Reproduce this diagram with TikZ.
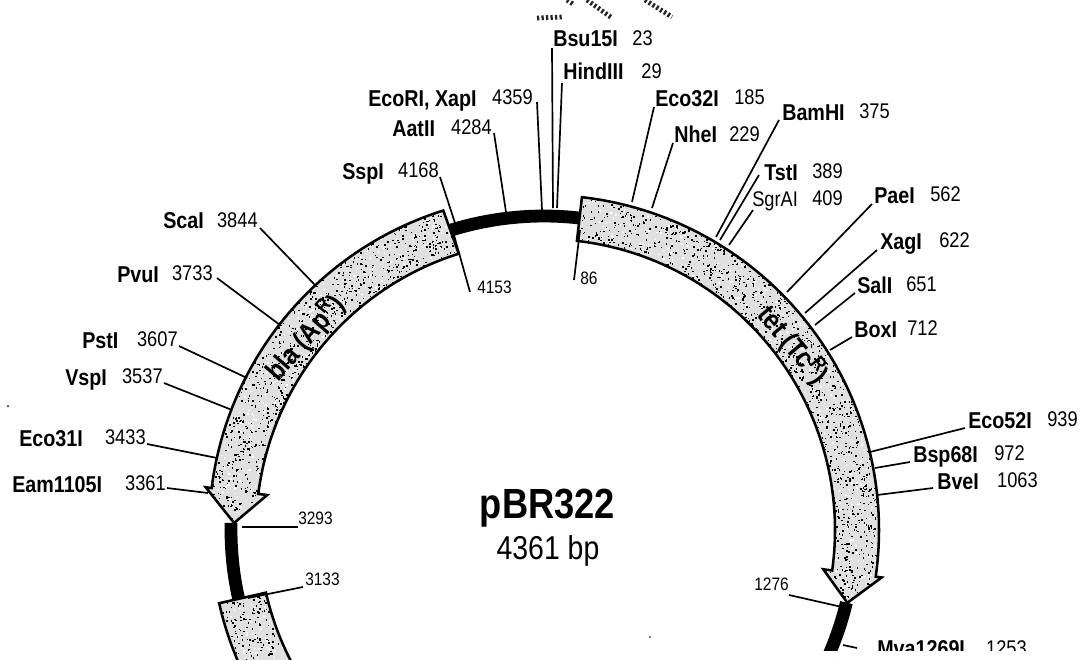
\documentclass[tikz,border=0pt]{standalone}
\usepackage{fontspec}
\setmainfont[FakeStretch=0.86]{Liberation Sans}
\newcommand{\speckle}[4]{%
  \foreach \s in {1,...,#3}{
    \pgfmathsetmacro{\sa}{#1+rnd*(#2-#1)}
    \pgfmathsetmacro{\sr}{280+rnd*62}
    \fill[#4] (\sa:\sr) rectangle ++(1.5,1.5);
  }}
\newcommand{\tetpath}{(83.5:335) arc[start angle=83.5, end angle=-8, radius=335] -- (-8:341) -- (-13.5:312) -- (-8:282) -- (-8:291) arc[start angle=-8, end angle=83.5, radius=291] -- cycle}
\newcommand{\blapath}{(107.5:335) arc[start angle=107.5, end angle=172.8, radius=335] -- (172.8:341) -- (178.7:310) -- (172.8:279) -- (172.8:288) arc[start angle=172.8, end angle=107.5, radius=290] -- cycle}
\newcommand{\rompath}{(192.7:333) arc[start angle=192.7, end angle=212, radius=333] -- (212:285) arc[start angle=212, end angle=192.7, radius=285] -- cycle}
\begin{document}
\begin{tikzpicture}[
    x=0.025cm, y=-0.025cm,
    gene/.style={draw, line width=1.8pt, line join=miter},
    geneback/.style={fill=black!12},
    ori/.style={line width=0.32cm},
    tick/.style={line width=1.2pt},
    enz/.style={anchor=base west, inner sep=0pt, font=\fontsize{16.3}{18}\selectfont\bfseries},
    enzr/.style={anchor=base west, inner sep=0pt, font=\fontsize{15.1}{17}\selectfont},
    num/.style={anchor=base east, inner sep=0pt, font=\fontsize{15.1}{17}\selectfont},
    bpmark/.style={inner sep=0pt, font=\fontsize{12.8}{15}\selectfont},
    genelabel/.style={inner sep=0pt, font=\fontsize{20}{22}\selectfont\bfseries},
    hatchmark/.style={line width=0.12cm, dash pattern=on 1.6pt off 1.6pt, black!85}
]
\path[use as bounding box, clip] (0,0) rectangle (1080,659);
\fill[white] (0,0) rectangle (1080,659);
\pgfmathsetseed{322}

% Ring
\begin{scope}[shift={(544,530)}, yscale=-1]
  \draw[ori] (83.5:314) arc[start angle=83.5, end angle=107.5, radius=314];
  \draw[ori] (178.7:313) arc[start angle=178.7, end angle=193, radius=313];
  \draw[ori] (-13.5:311) arc[start angle=-13.5, end angle=-24, radius=311];
  \fill[geneback] \tetpath;
  \fill[geneback] \blapath;
  \fill[geneback] \rompath;
  \begin{scope}
    \clip \tetpath;
    \speckle{-14}{84}{1500}{black}
    \speckle{-14}{84}{600}{white}
  \end{scope}
  \begin{scope}
    \clip \blapath;
    \speckle{107}{179}{1050}{black}
    \speckle{107}{179}{420}{white}
  \end{scope}
  \begin{scope}
    \clip \rompath;
    \speckle{192}{212}{300}{black}
    \speckle{192}{212}{120}{white}
  \end{scope}
  \draw[gene] \tetpath;
  \draw[gene] \blapath;
  \draw[gene] \rompath;
\end{scope}

% Genes and title
\node[genelabel, rotate=49] (bla) at (305,338) {bla (Ap\textsuperscript{R})};
\node[genelabel, rotate=-50] (tet) at (793,345) {tet (Tc\textsuperscript{R})};
\node[anchor=base, inner sep=0pt, font=\fontsize{30}{32}\selectfont\bfseries] (title) at (547.5,518) {pBR322};
\node[anchor=base, inner sep=0pt, font=\fontsize{23.5}{26}\selectfont] (size) at (548,559) {4361 bp};

% Top
\node[enz] (bsu) at (553,46) {Bsu15I};
\node[num] (bsun) at (653,45) {23};
\coordinate (bsut) at (553,208);
\draw[tick] ([shift={(-1,2)}]bsu.base west) -- (bsut);
\node[enz] (hind) at (563,79) {HindIII};
\node[num] (hindn) at (662,78) {29};
\coordinate (hindt) at (557,208);
\draw[tick] ([shift={(-1,4)}]hind.base west) -- (hindt);
\node[enz] (ecori) at (368,106) {EcoRI, XapI};
\node[num] (ecorin) at (533,104) {4359};
\coordinate (ecorit) at (542,210);
\draw[tick] ([shift={(4,-2)}]ecorin.base east) -- (ecorit);
\node[enz] (aat) at (392,136) {AatII};
\node[num] (aatn) at (492,134) {4284};
\coordinate (aatt) at (506,212);
\draw[tick] ([shift={(2,-1)}]aatn.base east) -- (aatt);
\node[enz] (ssp) at (342,179) {SspI};
\node[num] (sspn) at (439,177) {4168};
\coordinate (sspt) at (455,223);
\draw[tick] ([shift={(1,0)}]sspn.base east) -- (sspt);
\node[bpmark, anchor=base west] (bla4153) at (477,293) {4153};
\coordinate (bla4153t) at (452,228);
\draw[tick] ([shift={(-7,-1)}]bla4153.base west) -- (bla4153t);
\node[bpmark, anchor=base west] (tet86) at (580,284) {86};
\coordinate (tet86t) at (580,230);
\draw[tick] ([shift={(-6,-4)}]tet86.base west) -- (tet86t);

% Right
\node[enz] (eco32) at (655,106) {Eco32I};
\node[num] (eco32n) at (765,104) {185};
\coordinate (eco32t) at (632,202);
\draw[tick] ([shift={(-1,1)}]eco32.base west) -- (eco32t);
\node[enz] (nhe) at (674,142) {NheI};
\node[num] (nhen) at (760,141) {229};
\coordinate (nhet) at (652,208);
\draw[tick] ([shift={(-1,1)}]nhe.base west) -- (nhet);
\node[enz] (bam) at (782,120) {BamHI};
\node[num] (bamn) at (890,118) {375};
\coordinate (bamt) at (716,237);
\draw[tick] ([shift={(-3,0)}]bam.base west) -- (bamt);
\node[enz] (tst) at (764,180) {TstI};
\node[num] (tstn) at (843,178) {389};
\coordinate (tstt) at (720,240);
\draw[tick] ([shift={(-5,-5)}]tst.base west) -- (tstt);
\node[enzr] (sgr) at (752,206) {SgrAI};
\node[num] (sgrn) at (843,205) {409};
\coordinate (sgrt) at (729,245);
\draw[tick] ([shift={(1,4)}]sgr.base west) -- (sgrt);
\node[enz] (pae) at (874,203) {PaeI};
\node[num] (paen) at (961,201) {562};
\coordinate (paet) at (787,292);
\draw[tick] ([shift={(-2,1)}]pae.base west) -- (paet);
\node[enz] (xag) at (880,249) {XagI};
\node[num] (xagn) at (970,247) {622};
\coordinate (xagt) at (805,313);
\draw[tick] ([shift={(-3,1)}]xag.base west) -- (xagt);
\node[enz] (sal) at (857,293) {SalI};
\node[num] (saln) at (937,291) {651};
\coordinate (salt) at (815,325);
\draw[tick] ([shift={(-2,0)}]sal.base west) -- (salt);
\node[enz] (box) at (854,337) {BoxI};
\node[num] (boxn) at (938,335) {712};
\coordinate (boxt) at (830,350);
\draw[tick] ([shift={(-2,0)}]box.base west) -- (boxt);
\node[enz] (eco52) at (968,428) {Eco52I};
\node[num] (eco52n) at (1078,426) {939};
\coordinate (eco52t) at (870,452);
\draw[tick] ([shift={(-3,0)}]eco52.base west) -- (eco52t);
\node[enz] (bsp) at (913,462) {Bsp68I};
\node[num] (bspn) at (1025,460) {972};
\coordinate (bspt) at (875,468);
\draw[tick] ([shift={(-3,0)}]bsp.base west) -- (bspt);
\node[enz] (bve) at (937,489) {BveI};
\node[num] (bven) at (1038,487) {1063};
\coordinate (bvet) at (877,495);
\draw[tick] ([shift={(-4,-1)}]bve.base west) -- (bvet);
\node[bpmark, anchor=base east] (tet1276) at (789,590) {1276};
\coordinate (tet1276t) at (842,607);
\draw[tick] ([shift={(0,5)}]tet1276.base east) -- (tet1276t);
\node[enz] (mva) at (877,656) {Mva1269I};
\node[num] (mvan) at (1027,655) {1253};
\coordinate (mvaa) at (843,645);
\coordinate (mvab) at (857,648);
\draw[tick] (mvaa) -- (mvab);
\fill[white] (690,651) rectangle (1080,659);

% Left
\node[enz] (sca) at (163,228) {ScaI};
\node[num] (scan) at (258,227) {3844};
\coordinate (scat) at (315,285);
\draw[tick] ([shift={(2,1)}]scan.base east) -- (scat);
\node[enz] (pvu) at (117,282) {PvuI};
\node[num] (pvun) at (213,280) {3733};
\coordinate (pvut) at (280,325);
\draw[tick] ([shift={(4,-2)}]pvun.base east) -- (pvut);
\node[enz] (pst) at (82,348) {PstI};
\node[num] (pstn) at (178,346) {3607};
\coordinate (pstt) at (247,378);
\draw[tick] ([shift={(1,0)}]pstn.base east) -- (pstt);
\node[enz] (vsp) at (65,385) {VspI};
\node[num] (vspn) at (163,383) {3537};
\coordinate (vspt) at (232,410);
\draw[tick] ([shift={(1,0)}]vspn.base east) -- (vspt);
\node[enz] (eco31) at (19,446) {Eco31I};
\node[num] (eco31n) at (146,444) {3433};
\coordinate (eco31t) at (217,458);
\draw[tick] ([shift={(1,0)}]eco31n.base east) -- (eco31t);
\node[enz] (eam) at (12,492) {Eam1105I};
\node[num] (eamn) at (166,490) {3361};
\coordinate (eamt) at (208,493);
\draw[tick] ([shift={(1,-2)}]eamn.base east) -- (eamt);
\node[bpmark, anchor=base west] (bla3293) at (298,524) {3293};
\coordinate (bla3293t) at (242,527);
\draw[tick] ([shift={(0,3)}]bla3293.base west) -- (bla3293t);
\node[bpmark, anchor=base west] (rom3133) at (305,585) {3133};
\coordinate (rom3133t) at (248,598);
\draw[tick] ([shift={(-2,2)}]rom3133.base west) -- (rom3133t);

% Scan marks
\draw[hatchmark] (587,0) -- (612,18);
\draw[hatchmark] (567,0) -- (573,4);
\draw[hatchmark] (645,0) -- (672,17);
\draw[hatchmark] (537,18) -- (562,17);
\fill (8,406) circle (1);
\fill (650,637) circle (0.8);
\end{tikzpicture}
\end{document}
